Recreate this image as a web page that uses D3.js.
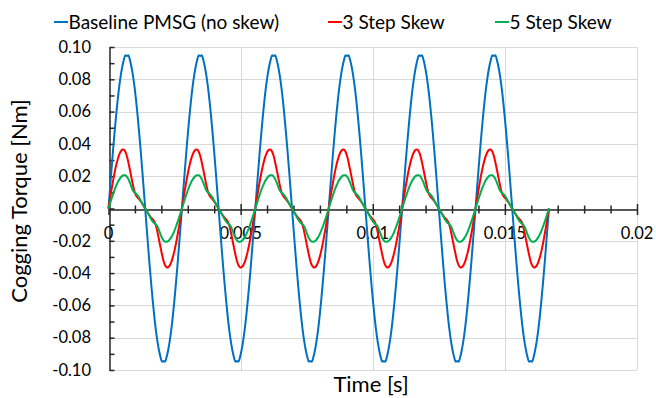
<!DOCTYPE html>
<html>
<head>
<meta charset="utf-8">
<script src="https://cdn.jsdelivr.net/npm/d3@7"></script>
<style>
  body { margin: 0; background: #fff; }
  text { font-family: Lato, "Open Sans", sans-serif; fill: #000; }
</style>
</head>
<body>
<svg id="chart" width="656" height="398"></svg>
<script>
// ---------------- data ----------------
const seriesNames = ["Baseline PMSG (no skew)", "3 Step Skew", "5 Step Skew"];
const seriesColors = ["#0070C0", "#FF0000", "#00B050"];

// cogging period (s) and number of periods shown
const cogPeriod = 1 / 360;
const periodCount = 6;

const baselinePeriod = [
  0, 0.0124, 0.0246, 0.0364, 0.0475, 0.0578, 0.0672, 0.0754, 0.0823, 0.0878, 0.0920, 0.0948,
  0.0945, 0.0948, 0.0920, 0.0878, 0.0823, 0.0754, 0.0672, 0.0578, 0.0475, 0.0364, 0.0246, 0.0124,
  0, -0.0124, -0.0246, -0.0364, -0.0475, -0.0578, -0.0672, -0.0754, -0.0823, -0.0878, -0.0920, -0.0948,
  -0.0945, -0.0948, -0.0920, -0.0878, -0.0823, -0.0754, -0.0672, -0.0578, -0.0475, -0.0364, -0.0246, -0.0124
];
const step3Period = [
  0, 0.0060, 0.0118, 0.0172, 0.0223, 0.0267, 0.0304, 0.0333, 0.0354, 0.0364, 0.0364, 0.0352,
  0.0325, 0.0285, 0.0240, 0.0192, 0.0145, 0.0105, 0.0080, 0.0068, 0.0058, 0.0045, 0.0031, 0.0016,
  0, -0.0016, -0.0031, -0.0045, -0.0058, -0.0068, -0.0080, -0.0105, -0.0145, -0.0192, -0.0240, -0.0285,
  -0.0325, -0.0352, -0.0364, -0.0364, -0.0354, -0.0333, -0.0304, -0.0267, -0.0223, -0.0172, -0.0118, -0.0060
];
const step5Period = [
  0, 0.0031, 0.0061, 0.0089, 0.0116, 0.0140, 0.0162, 0.0179, 0.0192, 0.0202, 0.0206, 0.0206,
  0.0198, 0.0182, 0.0160, 0.0134, 0.0112, 0.0099, 0.0092, 0.0082, 0.0068, 0.0050, 0.0033, 0.0016,
  0, -0.0016, -0.0033, -0.0050, -0.0068, -0.0082, -0.0092, -0.0099, -0.0112, -0.0134, -0.0160, -0.0182,
  -0.0198, -0.0206, -0.0206, -0.0202, -0.0192, -0.0179, -0.0162, -0.0140, -0.0116, -0.0089, -0.0061, -0.0031
];

const xTicks = [0, 0.005, 0.01, 0.015, 0.02];
const xTickLabels = ["0", "0.005", "0.01", "0.015", "0.02"];
const yTicks = [-0.10, -0.08, -0.06, -0.04, -0.02, 0.00, 0.02, 0.04, 0.06, 0.08, 0.10];
const yTickLabels = ["-0.10", "-0.08", "-0.06", "-0.04", "-0.02", "0.00", "0.02", "0.04", "0.06", "0.08", "0.10"];
const xTitle = "Time [s]";
const yTitle = "Cogging Torque [Nm]";

// ---------------- build series ----------------
function buildSeries(period) {
  const n = period.length;
  const pts = [];
  for (let p = 0; p < periodCount; p++) {
    period.forEach((v, k) => pts.push({ t: (p + k / n) * cogPeriod, v }));
  }
  pts.push({ t: periodCount * cogPeriod, v: period[0] });
  return pts;
}
const series = [baselinePeriod, step3Period, step5Period].map(buildSeries);

// ---------------- layout ----------------
const svg = d3.select("#chart");
const x0 = 108.5, x1 = 637, yTop = 47, yBot = 370;
const x = d3.scaleLinear().domain([0, 0.02]).range([x0, x1]);
const y = d3.scaleLinear().domain([-0.1, 0.1]).range([yBot, yTop]);
const crisp = v => Math.round(v) + 0.5;
const gridColor = "#D9D9D9";
const axisColor = "#262626";

// horizontal gridlines
svg.append("g").selectAll("line").data(yTicks).join("line")
  .attr("x1", x0).attr("x2", x1)
  .attr("y1", d => crisp(y(d))).attr("y2", d => crisp(y(d)))
  .attr("stroke", gridColor).attr("stroke-width", 1);
// vertical gridlines
svg.append("g").selectAll("line").data(xTicks.slice(1)).join("line")
  .attr("x1", d => crisp(x(d))).attr("x2", d => crisp(x(d)))
  .attr("y1", yTop).attr("y2", yBot)
  .attr("stroke", gridColor).attr("stroke-width", 1);

// y axis line and inward ticks every 0.01
const yMinor = d3.range(-10, 11).map(i => i / 100);
const yAx = svg.append("g").attr("transform", `translate(${crisp(x0)},0)`)
  .call(d3.axisRight(y).tickValues(yMinor).tickSize(5).tickSizeOuter(0).tickFormat(""));
yAx.select(".domain").attr("stroke", axisColor).attr("stroke-width", 1.5);
yAx.selectAll(".tick line").attr("stroke", axisColor).attr("stroke-width", 1.5);

// y tick labels
const yLab = svg.append("g").attr("transform", `translate(${x0},0)`)
  .call(d3.axisLeft(y).tickValues(yTicks).tickSize(0).tickPadding(17.5)
    .tickFormat((d, i) => yTickLabels[i]));
yLab.select(".domain").remove();
yLab.selectAll("text").attr("font-size", 16.5).attr("font-family", "Lato, 'Open Sans', sans-serif").attr("fill", "#000");

// x axis through zero, crossing ticks
const xMinor = d3.range(0, 21).map(i => i / 1000);
const zeroY = crisp(y(0));
const xAx = svg.append("g").attr("transform", `translate(0,${zeroY})`)
  .call(d3.axisBottom(x).tickValues(xMinor).tickSize(4).tickSizeOuter(0).tickFormat(""));
xAx.select(".domain").attr("stroke", axisColor).attr("stroke-width", 1.5);
xAx.selectAll(".tick line")
  .attr("y1", d => (xTicks.some(t => Math.abs(t - d) < 1e-9) ? -5.5 : -4))
  .attr("y2", d => (xTicks.some(t => Math.abs(t - d) < 1e-9) ? 5.5 : 4))
  .attr("stroke", axisColor).attr("stroke-width", 1.5);

// x tick labels
svg.append("g").selectAll("text").data(xTicks).join("text")
  .attr("x", d => x(d)).attr("y", zeroY + 23.5)
  .attr("text-anchor", "middle").attr("dominant-baseline", "central")
  .attr("font-size", 16.5)
  .text((d, i) => xTickLabels[i]);

// series lines
const line = d3.line().x(d => x(d.t)).y(d => y(d.v)).curve(d3.curveCatmullRom.alpha(0.5));
svg.append("g").selectAll("path").data(series).join("path")
  .attr("d", line).attr("fill", "none")
  .attr("stroke", (d, i) => seriesColors[i]).attr("stroke-width", 2)
  .attr("stroke-linejoin", "round");

// axis titles
svg.append("text").attr("x", 371).attr("y", 392).attr("text-anchor", "middle")
  .attr("font-size", 22).text(xTitle);
svg.append("text").attr("transform", "translate(27,201) rotate(-90)").attr("text-anchor", "middle")
  .attr("font-size", 22).text(yTitle);

// legend
const legendX = [54, 328, 495];
const leg = svg.append("g").selectAll("g").data(seriesNames).join("g")
  .attr("transform", (d, i) => `translate(${legendX[i]},22)`);
leg.append("line").attr("x1", 0).attr("x2", 14).attr("y1", 0).attr("y2", 0)
  .attr("stroke", (d, i) => seriesColors[i]).attr("stroke-width", 2);
leg.append("text").attr("x", 14.5).attr("y", 6.5).attr("font-size", 19).text(d => d);
</script>
</body>
</html>
